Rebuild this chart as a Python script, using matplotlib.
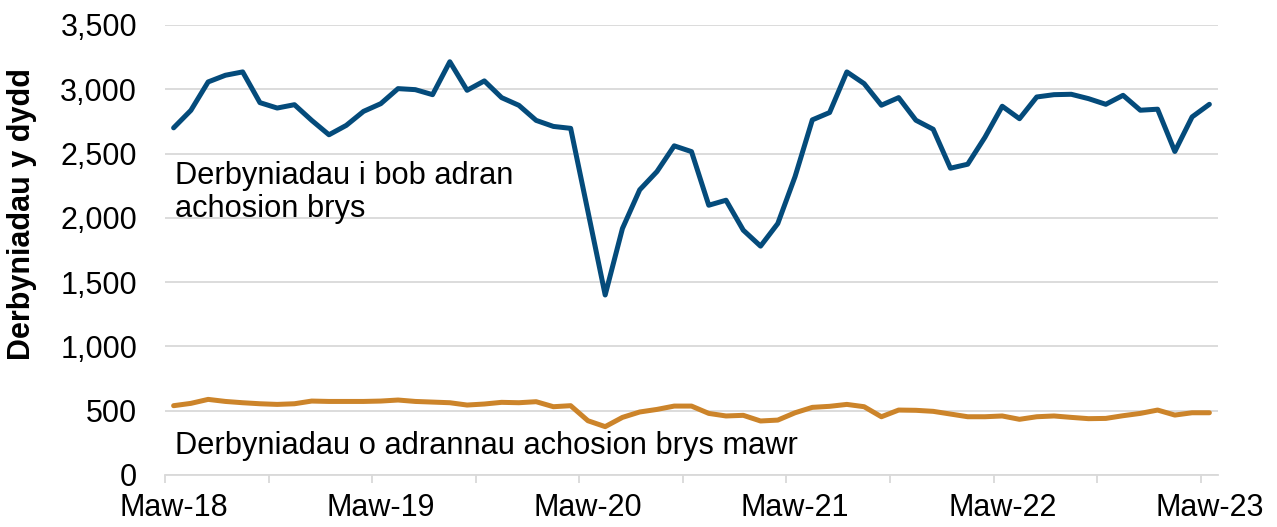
import numpy as np
import matplotlib.pyplot as plt

plt.rcParams['font.family'] = ['Liberation Sans', 'DejaVu Sans']

# monthly, Mar-18 .. Mar-23
months = np.arange(61)
tick_labels = ['Maw-18', 'Maw-19', 'Maw-20', 'Maw-21', 'Maw-22', 'Maw-23']

all_ed = [2700, 2836, 3057, 3109, 3135, 2896, 2854, 2880, 2758, 2646,
          2719, 2828, 2888, 3005, 2997, 2958, 3214, 2992, 3065, 2935,
          2875, 2758, 2711, 2696, 2050, 1400, 1917, 2218, 2360, 2560,
          2515, 2098, 2137, 1904, 1780, 1956, 2321, 2762, 2819, 3135,
          3044, 2876, 2935, 2759, 2689, 2386, 2417, 2627, 2868, 2771,
          2940, 2958, 2961, 2927, 2883, 2953, 2837, 2845, 2516, 2785,
          2883]

major_ed = [539, 557, 588, 572, 562, 554, 549, 554, 575, 572,
            572, 572, 575, 583, 572, 567, 562, 544, 552, 565,
            562, 570, 531, 539, 422, 376, 448, 490, 510, 536,
            536, 479, 459, 464, 420, 427, 484, 526, 534, 549,
            531, 453, 505, 503, 495, 474, 453, 453, 459, 433,
            453, 459, 448, 438, 440, 461, 479, 505, 466, 484,
            484]

fig = plt.figure(figsize=(12.77, 5.27), dpi=100)
ax = fig.add_axes([0.1292, 0.0987, 0.8246, 0.8539])

ax.plot(months, all_ed, color='#044B7B', lw=3.6, solid_joinstyle='round',
        solid_capstyle='round')
ax.plot(months, major_ed, color='#CC842A', lw=3.6, solid_joinstyle='round',
        solid_capstyle='round')

ax.set_xlim(-0.5, 60.5)
ax.set_ylim(0, 3500)
ax.set_yticks(np.arange(0, 3501, 500))
ax.set_yticklabels([f'{v:,}' for v in range(0, 3501, 500)])
ax.set_xticks(np.arange(0, 61, 12))
ax.set_xticklabels(tick_labels)
ax.set_xticks(np.arange(-0.5, 61, 6), minor=True)

ax.grid(axis='y', color='#D9D9D9', lw=1.3)
ax.set_axisbelow(True)
for s in ['left', 'right', 'top']:
    ax.spines[s].set_visible(False)
ax.spines['bottom'].set_color('#D9D9D9')
ax.spines['bottom'].set_linewidth(1.3)

ax.tick_params(axis='y', length=0, pad=20, labelsize=22)
ax.tick_params(axis='x', which='major', length=0, pad=13, labelsize=22)
ax.tick_params(axis='x', which='minor', length=6, width=1.3, color='#D9D9D9')

ax.text(0.08, 2262, 'Derbyniadau i bob adran', fontsize=22.2, va='baseline', ha='left')
ax.text(0.08, 2010, 'achosion brys', fontsize=22.2, va='baseline', ha='left')
ax.text(0.08, 166, 'Derbyniadau o adrannau achosion brys mawr', fontsize=22.2,
        va='baseline', ha='left')

fig.text(22 / 1277, 1 - 213.5 / 527, 'Derbyniadau y dydd', rotation=90,
         fontsize=22, fontweight='bold', ha='center', va='center')

fig.savefig('out.png', dpi=100)
